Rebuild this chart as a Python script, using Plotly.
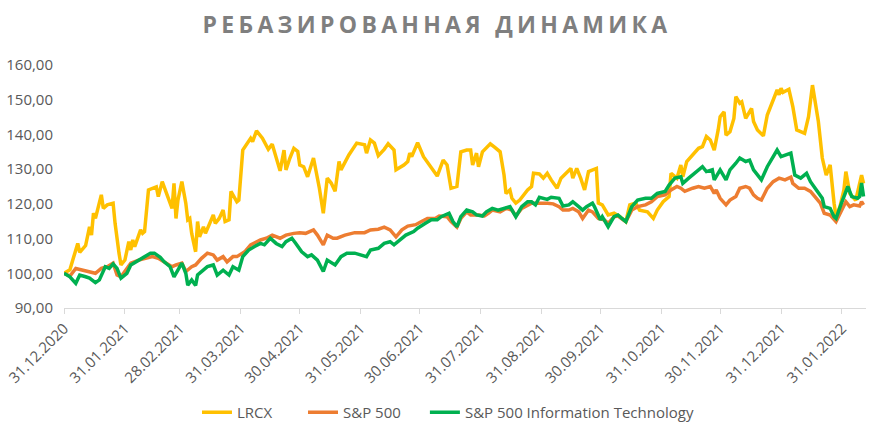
import plotly.graph_objects as go

# ---------------- data ----------------
lrcx_dates = [
    "2020-12-31", "2021-01-03", "2021-01-05", "2021-01-07", "2021-01-08", "2021-01-11", "2021-01-13",
    "2021-01-14", "2021-01-15", "2021-01-16", "2021-01-19", "2021-01-20", "2021-01-22", "2021-01-25",
    "2021-01-26", "2021-01-27", "2021-01-28", "2021-01-29", "2021-01-31", "2021-02-02", "2021-02-03",
    "2021-02-04", "2021-02-05", "2021-02-08", "2021-02-09", "2021-02-10", "2021-02-12", "2021-02-16",
    "2021-02-17", "2021-02-19", "2021-02-22", "2021-02-24", "2021-02-25", "2021-02-26", "2021-02-27",
    "2021-03-01", "2021-03-03", "2021-03-04", "2021-03-05", "2021-03-06", "2021-03-08", "2021-03-09",
    "2021-03-10", "2021-03-12", "2021-03-13", "2021-03-15", "2021-03-17", "2021-03-18", "2021-03-20",
    "2021-03-22", "2021-03-23", "2021-03-25", "2021-03-26", "2021-03-29", "2021-03-30", "2021-04-01",
    "2021-04-05", "2021-04-06", "2021-04-08", "2021-04-11", "2021-04-14", "2021-04-16", "2021-04-18",
    "2021-04-20", "2021-04-22", "2021-04-23", "2021-04-25", "2021-04-27", "2021-04-29", "2021-04-30",
    "2021-05-02", "2021-05-04", "2021-05-07", "2021-05-09", "2021-05-10", "2021-05-12", "2021-05-14",
    "2021-05-16", "2021-05-18", "2021-05-20", "2021-05-21", "2021-05-25", "2021-05-29", "2021-06-02",
    "2021-06-03", "2021-06-05", "2021-06-07", "2021-06-09", "2021-06-12", "2021-06-14", "2021-06-17",
    "2021-06-18", "2021-06-22", "2021-06-24", "2021-06-25", "2021-06-26", "2021-06-29", "2021-07-02",
    "2021-07-05", "2021-07-09", "2021-07-12", "2021-07-14", "2021-07-16", "2021-07-19", "2021-07-21",
    "2021-07-24", "2021-07-26", "2021-07-27", "2021-07-29", "2021-07-30", "2021-08-01", "2021-08-03",
    "2021-08-05", "2021-08-07", "2021-08-10", "2021-08-12", "2021-08-13", "2021-08-15", "2021-08-16",
    "2021-08-18", "2021-08-20", "2021-08-24", "2021-08-26", "2021-08-27", "2021-08-30", "2021-09-01",
    "2021-09-03", "2021-09-05", "2021-09-08", "2021-09-10", "2021-09-15", "2021-09-16", "2021-09-18",
    "2021-09-20", "2021-09-22", "2021-09-24", "2021-09-28", "2021-09-29", "2021-10-01", "2021-10-04",
    "2021-10-07", "2021-10-10", "2021-10-13", "2021-10-15", "2021-10-18", "2021-10-20", "2021-10-24",
    "2021-10-27", "2021-10-29", "2021-11-01", "2021-11-04", "2021-11-05", "2021-11-08", "2021-11-10",
    "2021-11-11", "2021-11-13", "2021-11-16", "2021-11-19", "2021-11-21", "2021-11-23", "2021-11-25",
    "2021-11-27", "2021-11-29", "2021-11-30", "2021-12-02", "2021-12-03", "2021-12-05", "2021-12-07",
    "2021-12-08", "2021-12-10", "2021-12-11", "2021-12-13", "2021-12-16", "2021-12-17", "2021-12-19",
    "2021-12-22", "2021-12-24", "2021-12-27", "2021-12-29", "2021-12-30", "2021-12-31", "2022-01-01",
    "2022-01-04", "2022-01-06", "2022-01-08", "2022-01-10", "2022-01-12", "2022-01-14", "2022-01-16",
    "2022-01-19", "2022-01-21", "2022-01-23", "2022-01-25", "2022-01-27", "2022-01-28", "2022-01-30",
    "2022-02-01", "2022-02-02", "2022-02-04", "2022-02-07", "2022-02-10", "2022-02-11",
]
lrcx_values = [
    100.0, 101.0, 104.8, 108.6, 106.0, 108.0, 113.4,
    111.0, 117.3, 115.8, 122.6, 118.7, 119.7, 120.2,
    114.4, 109.1, 105.8, 102.4, 103.8, 109.1, 106.7,
    109.6, 107.7, 112.5, 111.5, 112.0, 124.0, 124.9,
    122.1, 126.4, 122.1, 118.7, 125.9, 115.8, 121.1,
    126.4, 120.2, 115.4, 115.8, 111.5, 106.2, 114.9,
    110.5, 113.4, 111.5, 113.9, 116.8, 114.4, 115.8,
    118.2, 114.9, 115.4, 123.6, 120.6, 121.1, 135.5,
    138.9, 137.9, 141.0, 138.9, 135.7, 137.2, 133.6,
    129.5, 135.5, 129.8, 133.2, 136.0, 135.1, 131.2,
    130.7, 127.8, 133.2, 127.8, 124.5, 117.3, 127.4,
    126.0, 123.6, 132.2, 129.8, 134.1, 137.5, 137.0,
    134.6, 138.4, 137.5, 133.9, 135.7, 137.3, 135.5,
    129.8, 131.2, 132.2, 134.6, 133.6, 137.6, 133.6,
    131.2, 128.0, 132.6, 131.2, 124.5, 125.0, 135.0,
    135.5, 135.5, 131.2, 134.6, 130.7, 135.0, 136.0,
    137.3, 136.4, 135.0, 128.3, 123.0, 124.0, 121.6,
    120.2, 121.1, 124.0, 125.0, 128.8, 128.6, 127.4,
    128.8, 126.9, 124.5, 127.4, 130.2, 127.4, 130.2,
    127.4, 124.0, 129.3, 130.2, 120.2, 119.7, 116.8,
    117.3, 116.3, 114.9, 119.7, 120.2, 118.2, 117.7,
    115.8, 118.2, 120.6, 122.1, 128.8, 127.4, 131.2,
    127.8, 132.2, 134.1, 136.0, 136.5, 139.4, 138.4,
    135.5, 141.3, 145.1, 146.5, 139.8, 140.8, 144.6,
    150.9, 149.0, 149.4, 144.6, 147.5, 143.7, 141.3,
    139.6, 145.6, 149.9, 152.8, 151.4, 153.3, 152.1,
    153.0, 148.0, 141.3, 140.8, 140.3, 145.1, 154.2,
    143.7, 133.2, 128.3, 131.2, 120.2, 116.3, 119.2,
    124.0, 129.3, 123.0, 121.0, 128.3, 125.9,
]

sp500_dates = [
    "2020-12-31", "2021-01-03", "2021-01-06", "2021-01-09", "2021-01-12", "2021-01-16", "2021-01-19",
    "2021-01-22", "2021-01-25", "2021-01-27", "2021-01-29", "2021-01-31", "2021-02-03", "2021-02-07",
    "2021-02-11", "2021-02-14", "2021-02-17", "2021-02-20", "2021-02-24", "2021-02-26", "2021-03-01",
    "2021-03-03", "2021-03-06", "2021-03-08", "2021-03-11", "2021-03-14", "2021-03-17", "2021-03-19",
    "2021-03-22", "2021-03-24", "2021-03-27", "2021-03-29", "2021-04-02", "2021-04-05", "2021-04-10",
    "2021-04-13", "2021-04-16", "2021-04-20", "2021-04-23", "2021-04-27", "2021-04-30", "2021-05-03",
    "2021-05-07", "2021-05-09", "2021-05-12", "2021-05-14", "2021-05-17", "2021-05-19", "2021-05-23",
    "2021-05-28", "2021-06-02", "2021-06-05", "2021-06-09", "2021-06-12", "2021-06-15", "2021-06-18",
    "2021-06-21", "2021-06-24", "2021-06-28", "2021-07-01", "2021-07-04", "2021-07-08", "2021-07-10",
    "2021-07-14", "2021-07-16", "2021-07-19", "2021-07-21", "2021-07-24", "2021-07-26", "2021-07-30",
    "2021-08-02", "2021-08-04", "2021-08-06", "2021-08-10", "2021-08-13", "2021-08-16", "2021-08-18",
    "2021-08-21", "2021-08-24", "2021-08-26", "2021-09-03", "2021-09-06", "2021-09-09", "2021-09-11",
    "2021-09-14", "2021-09-16", "2021-09-19", "2021-09-21", "2021-09-24", "2021-09-26", "2021-09-29",
    "2021-10-02", "2021-10-04", "2021-10-07", "2021-10-09", "2021-10-11", "2021-10-13", "2021-10-16",
    "2021-10-19", "2021-10-23", "2021-10-26", "2021-10-29", "2021-11-02", "2021-11-05", "2021-11-08",
    "2021-11-10", "2021-11-12", "2021-11-16", "2021-11-19", "2021-11-22", "2021-11-25", "2021-11-27",
    "2021-11-28", "2021-11-30", "2021-12-03", "2021-12-05", "2021-12-08", "2021-12-10", "2021-12-13",
    "2021-12-15", "2021-12-17", "2021-12-19", "2021-12-21", "2021-12-24", "2021-12-27", "2021-12-30",
    "2022-01-02", "2022-01-05", "2022-01-06", "2022-01-09", "2022-01-12", "2022-01-15", "2022-01-17",
    "2022-01-20", "2022-01-22", "2022-01-25", "2022-01-28", "2022-01-31", "2022-02-02", "2022-02-04",
    "2022-02-06", "2022-02-09", "2022-02-10", "2022-02-11",
]
sp500_values = [
    100.0, 99.2, 101.4, 101.0, 100.5, 100.0, 101.4,
    101.9, 102.9, 99.5, 99.0, 100.5, 102.9, 103.8,
    104.3, 104.8, 104.3, 103.3, 101.9, 102.4, 102.9,
    100.5, 101.9, 102.4, 104.3, 105.8, 105.3, 103.8,
    104.8, 103.3, 104.8, 104.8, 106.2, 108.2, 109.6,
    110.1, 111.0, 110.1, 111.0, 111.5, 111.7, 111.5,
    112.5, 111.0, 108.2, 111.0, 110.1, 110.1, 111.0,
    111.7, 111.7, 112.5, 112.7, 113.3, 112.5, 110.5,
    112.5, 113.6, 114.0, 114.9, 115.8, 115.8, 116.5,
    116.3, 114.9, 113.3, 115.8, 117.7, 116.8, 116.8,
    116.5, 117.3, 118.2, 117.7, 118.7, 118.2, 116.5,
    118.7, 119.7, 120.2, 120.2, 120.0, 119.2, 118.2,
    118.2, 118.7, 117.7, 115.8, 118.2, 117.7, 115.8,
    115.4, 114.4, 116.3, 116.5, 115.8, 114.9, 118.2,
    119.2, 119.7, 120.6, 122.1, 122.6, 124.0, 125.0,
    124.5, 123.6, 124.5, 125.0, 124.5, 125.0, 123.0,
    124.0, 121.6, 119.7, 121.1, 122.1, 124.5, 125.0,
    124.5, 122.6, 121.6, 121.1, 124.5, 126.4, 127.4,
    126.9, 127.7, 125.9, 124.5, 124.5, 123.6, 122.1,
    120.2, 117.3, 116.8, 114.9, 118.2, 120.6, 119.2,
    119.7, 119.4, 120.6, 119.7,
]

sp500_it_dates = [
    "2020-12-31", "2021-01-03", "2021-01-06", "2021-01-08", "2021-01-11", "2021-01-13", "2021-01-16",
    "2021-01-18", "2021-01-21", "2021-01-23", "2021-01-25", "2021-01-27", "2021-01-29", "2021-02-01",
    "2021-02-03", "2021-02-07", "2021-02-09", "2021-02-13", "2021-02-15", "2021-02-18", "2021-02-20",
    "2021-02-23", "2021-02-25", "2021-02-27", "2021-03-01", "2021-03-03", "2021-03-04", "2021-03-06",
    "2021-03-08", "2021-03-09", "2021-03-12", "2021-03-14", "2021-03-17", "2021-03-19", "2021-03-22",
    "2021-03-25", "2021-03-27", "2021-03-30", "2021-04-01", "2021-04-04", "2021-04-07", "2021-04-10",
    "2021-04-12", "2021-04-15", "2021-04-18", "2021-04-21", "2021-04-23", "2021-04-26", "2021-04-28",
    "2021-05-01", "2021-05-04", "2021-05-06", "2021-05-09", "2021-05-12", "2021-05-14", "2021-05-18",
    "2021-05-21", "2021-05-24", "2021-05-28", "2021-06-01", "2021-06-03", "2021-06-05", "2021-06-09",
    "2021-06-12", "2021-06-15", "2021-06-17", "2021-06-20", "2021-06-23", "2021-06-27", "2021-06-29",
    "2021-07-03", "2021-07-06", "2021-07-09", "2021-07-11", "2021-07-15", "2021-07-17", "2021-07-19",
    "2021-07-21", "2021-07-24", "2021-07-27", "2021-07-29", "2021-08-01", "2021-08-03", "2021-08-06",
    "2021-08-09", "2021-08-12", "2021-08-15", "2021-08-18", "2021-08-21", "2021-08-24", "2021-08-26",
    "2021-08-28", "2021-08-30", "2021-09-03", "2021-09-05", "2021-09-09", "2021-09-11", "2021-09-14",
    "2021-09-16", "2021-09-19", "2021-09-21", "2021-09-23", "2021-09-26", "2021-09-27", "2021-09-30",
    "2021-10-01", "2021-10-04", "2021-10-07", "2021-10-09", "2021-10-11", "2021-10-13", "2021-10-16",
    "2021-10-19", "2021-10-23", "2021-10-26", "2021-10-29", "2021-11-02", "2021-11-04", "2021-11-07",
    "2021-11-10", "2021-11-11", "2021-11-14", "2021-11-17", "2021-11-21", "2021-11-23", "2021-11-26",
    "2021-11-27", "2021-11-30", "2021-12-03", "2021-12-05", "2021-12-08", "2021-12-10", "2021-12-13",
    "2021-12-15", "2021-12-17", "2021-12-21", "2021-12-24", "2021-12-27", "2021-12-29", "2021-12-31",
    "2022-01-05", "2022-01-07", "2022-01-10", "2022-01-13", "2022-01-15", "2022-01-18", "2022-01-21",
    "2022-01-22", "2022-01-25", "2022-01-27", "2022-01-28", "2022-01-31", "2022-02-03", "2022-02-05",
    "2022-02-08", "2022-02-09", "2022-02-10", "2022-02-11",
]
sp500_it_values = [
    100.0, 99.0, 97.1, 99.5, 99.0, 98.6, 97.3,
    98.1, 101.9, 101.4, 102.7, 101.4, 98.6, 100.0,
    102.4, 103.8, 104.3, 105.8, 105.8, 104.6, 103.3,
    101.9, 99.0, 100.9, 102.9, 100.0, 96.6, 98.1,
    96.5, 99.5, 100.9, 101.9, 102.4, 99.5, 100.9,
    99.5, 101.9, 100.9, 104.8, 106.7, 107.7, 108.6,
    108.2, 110.1, 108.6, 107.7, 109.1, 110.1, 108.6,
    106.2, 104.8, 105.3, 103.8, 100.5, 103.8, 102.4,
    104.8, 105.8, 105.8, 105.3, 104.8, 106.7, 107.2,
    108.6, 109.1, 108.2, 109.6, 111.0, 112.0, 113.0,
    114.4, 115.4, 115.4, 116.3, 117.3, 114.9, 113.4,
    116.3, 118.2, 117.7, 116.8, 116.5, 117.7, 118.7,
    118.2, 118.7, 119.2, 116.3, 119.2, 120.6, 120.6,
    119.7, 121.9, 121.3, 121.9, 121.6, 119.4, 119.7,
    120.6, 119.2, 118.2, 119.2, 120.2, 119.2, 115.4,
    116.3, 113.4, 116.3, 116.8, 115.8, 114.9, 119.2,
    121.1, 121.6, 121.6, 123.0, 123.6, 125.4, 127.4,
    127.8, 125.9, 127.4, 128.8, 130.7, 129.3, 129.8,
    126.9, 129.8, 126.9, 129.8, 131.7, 133.2, 132.2,
    132.6, 129.8, 126.9, 130.7, 133.6, 135.5, 133.6,
    134.6, 128.3, 127.4, 128.8, 126.4, 124.0, 121.6,
    119.2, 118.7, 116.3, 115.8, 120.6, 125.0, 122.1,
    121.6, 122.1, 126.0, 122.1,
]

series_names = ["LRCX", "S&P 500", "S&P 500 Information Technology"]
tick_dates = [
    "2020-12-31", "2021-01-31", "2021-02-28", "2021-03-31", "2021-04-30", "2021-05-31", "2021-06-30",
    "2021-07-31", "2021-08-31", "2021-09-30", "2021-10-31", "2021-11-30", "2021-12-31", "2022-01-31",
]
tick_labels = [d[8:10] + "." + d[5:7] + "." + d[0:4] for d in tick_dates]
y_ticks = [90, 100, 110, 120, 130, 140, 150, 160]
title_text = "РЕБАЗИРОВАННАЯ ДИНАМИКА"

# ---------------- styling ----------------
colors = ["#FFC000", "#ED7D31", "#00B050"]
font_family = "Open Sans, Noto Sans, sans-serif"
label_color = "#595959"
legend_ids = ["legend", "legend2", "legend3"]
legend_x = [0.1658, 0.2980, 0.4500]   # left edges of the three legend entries (paper units)

fig = go.Figure()
for name, xs, ys, col, lid in zip(
    series_names,
    [lrcx_dates, sp500_dates, sp500_it_dates],
    [lrcx_values, sp500_values, sp500_it_values],
    colors, legend_ids,
):
    fig.add_trace(go.Scatter(x=xs, y=ys, mode="lines", name=name, legend=lid,
                             line=dict(color=col, width=3.5)))

legend_style = dict(
    orientation="h", xanchor="left", y=-0.43, yanchor="middle",
    font=dict(size=15, color=label_color), bgcolor="rgba(0,0,0,0)",
    itemwidth=30,
)
fig.update_layout(
    width=874, height=437,
    margin=dict(l=64, r=8, t=65, b=129, autoexpand=False),
    paper_bgcolor="white", plot_bgcolor="white",
    separators=", ",
    font=dict(family=font_family, size=15, color=label_color),
    title=dict(
        text='<span style="letter-spacing:4.3px">' + title_text + '</span>',
        x=0.5, xref="container", xanchor="center",
        y=1 - 25 / 437, yref="container", yanchor="middle",
        font=dict(family=font_family, size=23, color="#7F7F7F", weight="bold"),
    ),
    showlegend=True,
    legend=dict(x=legend_x[0], **legend_style),
    legend2=dict(x=legend_x[1], **legend_style),
    legend3=dict(x=legend_x[2], **legend_style),
)
fig.update_xaxes(
    type="date", range=["2020-12-31", "2022-02-12 06:00"],
    tickmode="array", tickvals=tick_dates, ticktext=tick_labels,
    tickangle=-45, tickfont=dict(size=15, color=label_color),
    showline=True, linecolor="#D9D9D9", linewidth=1,
    ticks="outside", ticklen=5, tickcolor="#D9D9D9",
    showgrid=False, zeroline=False, automargin=False,
)
fig.update_yaxes(
    range=[90, 160], tickmode="array", tickvals=y_ticks, tickformat=".2f",
    tickfont=dict(size=15, color=label_color), ticklabelstandoff=10,
    showgrid=False, zeroline=False, showline=False, ticks="", automargin=False,
)

fig.write_html("out.html")
